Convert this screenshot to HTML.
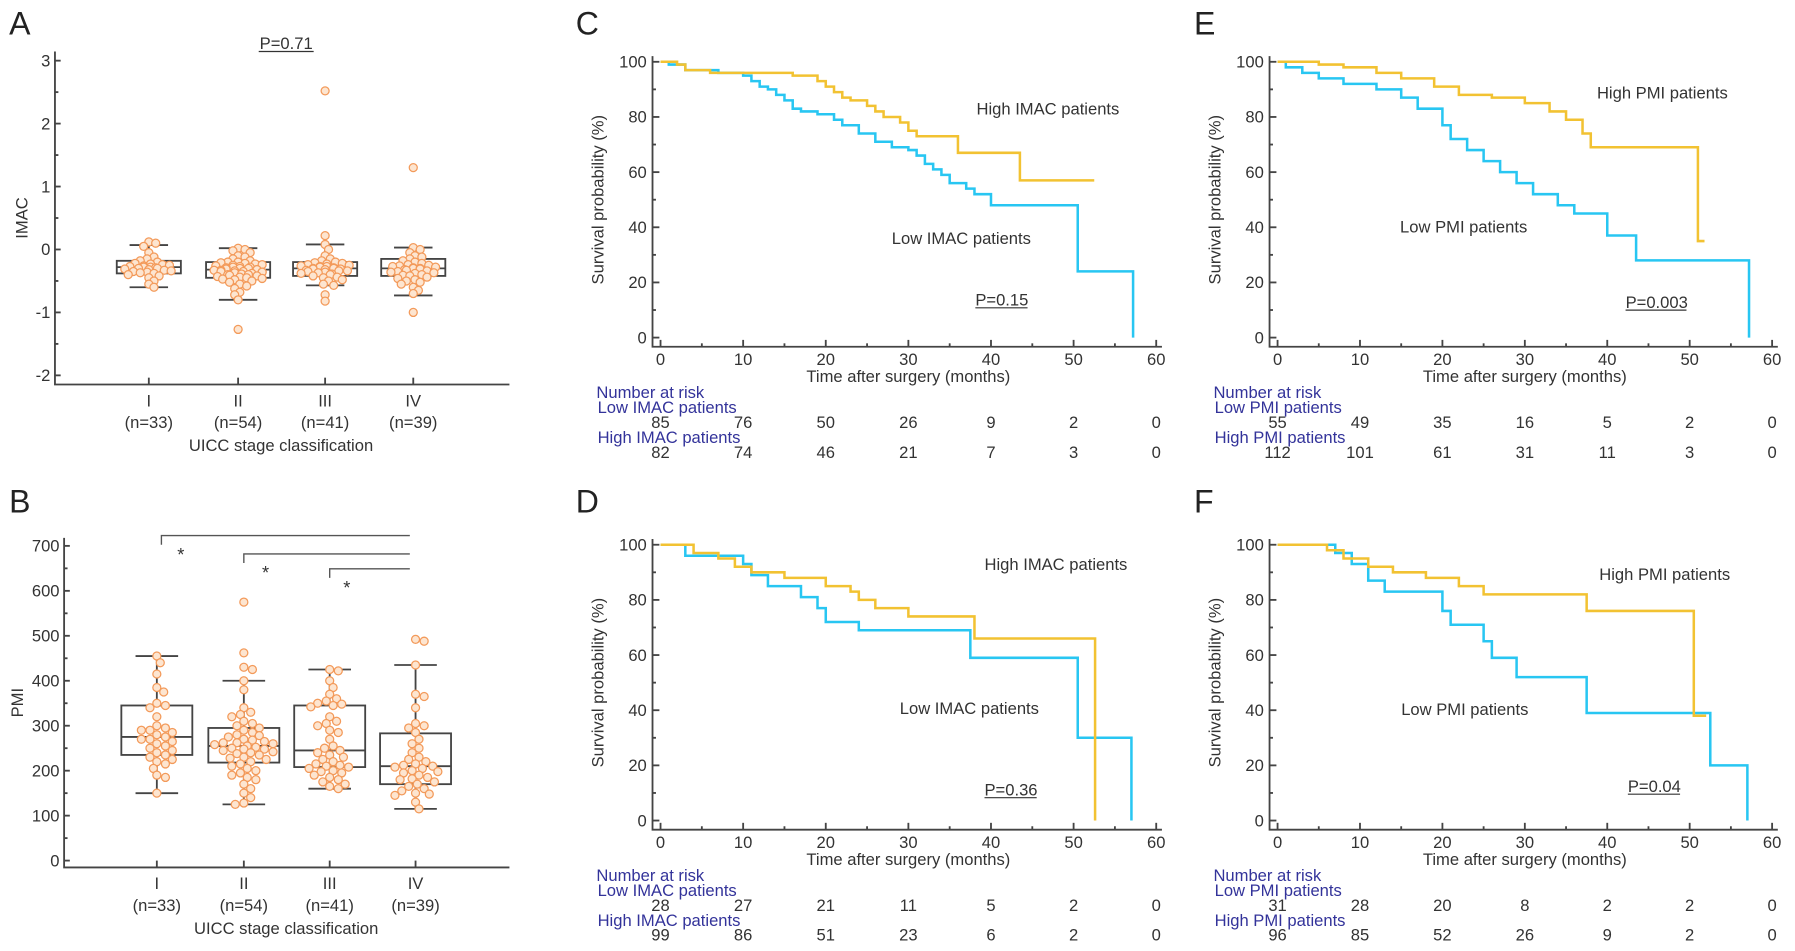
<!DOCTYPE html>
<html><head><meta charset="utf-8">
<style>
html,body{margin:0;padding:0;background:#fff;}
svg{display:block;}
text{font-family:"Liberation Sans",sans-serif;fill:#333;}
.lab{font-size:28px;fill:#222;}
.tk{font-size:14.5px;}
.ax{stroke:#444;stroke-width:1.6;fill:none;}
.risk{fill:#33339a;font-size:14.5px;}
</style></head>
<body>
<svg id="fig" width="1795" height="951" viewBox="0 0 1568 831" preserveAspectRatio="none" xmlns="http://www.w3.org/2000/svg">
<text class="lab" x="8" y="30">A</text>
<text class="lab" x="8" y="448">B</text>
<text class="lab" x="503" y="30">C</text>
<text class="lab" x="503" y="448">D</text>
<text class="lab" x="1043" y="30">E</text>
<text class="lab" x="1043" y="448">F</text>
<g id="g"></g>
</svg>
<script>
// ---- Box plot data ----
const stages = ["I","II","III","IV"];
const stageN = ["(n=33)","(n=54)","(n=41)","(n=39)"];
const imacBoxes = [[-0.6,-0.38,-0.28,-0.18,0.07],[-0.8,-0.45,-0.32,-0.2,0.02],[-0.57,-0.42,-0.3,-0.2,0.08],[-0.73,-0.42,-0.3,-0.15,0.03]];
const imacI = [0.12,0.1,0.05,-0.05,-0.12,-0.15,-0.18,-0.2,-0.22,-0.24,-0.25,-0.27,-0.28,-0.28,-0.3,-0.3,-0.32,-0.33,-0.34,-0.35,-0.36,-0.37,-0.38,-0.4,-0.42,-0.45,-0.5,-0.55,-0.6,-0.26,-0.31,-0.29,-0.23];
const imacII = [0.02,0.0,-0.02,-0.05,-0.1,-0.12,-0.15,-0.18,-0.2,-0.2,-0.22,-0.24,-0.25,-0.26,-0.28,-0.28,-0.3,-0.3,-0.31,-0.32,-0.32,-0.33,-0.34,-0.35,-0.35,-0.36,-0.37,-0.38,-0.4,-0.4,-0.42,-0.43,-0.45,-0.46,-0.48,-0.5,-0.52,-0.55,-0.58,-0.62,-0.68,-0.72,-0.8,-1.27,-0.27,-0.29,-0.33,-0.36,-0.39,-0.21,-0.23,-0.41,-0.44,-0.47];
const imacIII = [2.52,0.22,0.08,0.0,-0.1,-0.15,-0.18,-0.2,-0.22,-0.24,-0.25,-0.26,-0.27,-0.28,-0.29,-0.3,-0.3,-0.31,-0.32,-0.33,-0.34,-0.35,-0.36,-0.37,-0.38,-0.4,-0.42,-0.45,-0.5,-0.55,-0.57,-0.72,-0.82,-0.23,-0.27,-0.31,-0.34,-0.21,-0.39,-0.44,-0.48];
const imacIV = [1.3,0.03,0.0,-0.05,-0.1,-0.12,-0.15,-0.18,-0.2,-0.22,-0.24,-0.25,-0.27,-0.28,-0.3,-0.3,-0.32,-0.33,-0.35,-0.36,-0.38,-0.4,-0.42,-0.44,-0.46,-0.5,-0.55,-0.6,-0.65,-0.7,-1.0,-0.26,-0.29,-0.31,-0.34,-0.37,-0.41,-0.48,-0.52];
const pmiBoxes = [[150,235,275,345,455],[125,218,255,295,400],[160,208,245,345,425],[115,170,210,283,435]];
const pmiI = [455,440,415,385,375,350,345,340,320,300,295,290,285,280,275,270,265,260,255,250,245,240,235,230,225,220,215,205,190,185,270,290,150];
const pmiII = [575,462,430,425,400,380,340,330,325,320,310,305,300,295,290,285,280,278,275,270,268,265,262,260,258,255,252,250,248,245,242,240,235,230,228,225,220,215,210,205,200,195,190,185,180,170,160,150,140,128,125,262,248,238];
const pmiIII = [425,422,400,385,370,360,355,350,348,345,342,320,310,305,300,290,285,270,255,245,240,230,225,220,215,212,210,208,205,200,198,195,190,185,180,175,170,165,160,250,235];
const pmiIV = [492,488,435,370,365,340,305,300,295,285,270,260,250,240,230,220,215,212,210,208,205,200,195,190,185,180,175,170,165,160,155,150,148,145,130,115,225,198,182];
// ---- KM data ----
const cHighT=[0,2,3,6,16,19,20,21,22,23,25,26,27,29,30,31,36,43.5,52.5];
const cHighS=[100,99,97,96,95,93,91,89,87,86,84,82,80,78,75,73,67,57,57];
const cLowT=[0,1,3,7,10,11,12,13,14,15,16,17,19,21,22,24,26,28,30,31,32,33,34,35,37,38,40,50.5,57.2];
const cLowS=[100,99,97,96,95,93,91,90,88,86,83,82,81,79,77,74,71,69,68,66,63,61,59,56,54,52,48,24,0];
const dHighT=[0,4,7,9,11,15,20,23,24,26,30,38,52.6];
const dHighS=[100,97,95,92,90,88,85,83,80,77,74,66,0];
const dLowT=[0,3,10,11,13,17,19,20,24,37.5,50.5,57];
const dLowS=[100,96,93,89,85,81,77,72,69,59,30,0];
const eHighT=[0,5,8,12,15,19,22,26,30,33,35,37,38,51,51.8];
const eHighS=[100,99,98,96,94,91,88,87,85,82,79,74,69,35,35];
const eLowT=[0,1,3,5,8,12,15,17,20,21,23,25,27,29,31,34,36,40,43.5,57.2];
const eLowS=[100,98,96,94,92,90,87,83,77,72,68,64,60,56,52,48,45,37,28,0];
const fHighT=[0,6,8,11,14,18,22,25,37.5,50.5,52];
const fHighS=[100,98,95,92,90,88,85,82,76,38,38];
const fLowT=[0,7,9,11,13,20,21,25,26,29,37.5,52.5,57];
const fLowS=[100,97,93,87,83,76,71,65,59,52,39,20,0];
const riskTicks=[0,10,20,30,40,50,60];
const cLowRisk=[85,76,50,26,9,2,0], cHighRisk=[82,74,46,21,7,3,0];
const dLowRisk=[28,27,21,11,5,2,0], dHighRisk=[99,86,51,23,6,2,0];
const eLowRisk=[55,49,35,16,5,2,0], eHighRisk=[112,101,61,31,11,3,0];
const fLowRisk=[31,28,20,8,2,2,0], fHighRisk=[96,85,52,26,9,2,0];

const NS="http://www.w3.org/2000/svg";
const root=document.getElementById('g');
function mk(tag,attrs,parent,txt){const e=document.createElementNS(NS,tag);for(const k in attrs)e.setAttribute(k,attrs[k]);if(txt!==undefined)e.textContent=txt;(parent||root).appendChild(e);return e;}

function boxPanel(o){
  const g=mk('g',{});
  
  
  const y=v=>o.y0+(v-o.vmin)/(o.vmax-o.vmin)*(o.y1-o.y0);
  const ax=mk('path',{d:`M${o.ax},${o.top}V${o.axY}H${o.right}`,class:'ax'},g);
  
  
  for(let v=o.vmin;v<=o.vmax+1e-9;v+=o.minor){
    const major=Math.abs((v-o.vmin)/o.step-Math.round((v-o.vmin)/o.step))<1e-6;
    mk('line',{x1:o.ax,x2:o.ax+(major?5:3),y1:y(v),y2:y(v),class:'ax'},g);
    if(major){const t=mk('text',{x:o.ax-4,y:y(v)+5,'text-anchor':'end',class:'tk'},g,String(Math.round(v)));
      
      }
  }
  const yl=mk('text',{transform:`translate(${o.ylx},${(o.top+o.axY)/2}) rotate(-90)`,'text-anchor':'middle',class:'tk'},g,o.ylabel);
  
  
  o.xs.forEach((cx,i)=>{
    mk('line',{x1:cx,x2:cx,y1:o.axY,y2:o.axY-6,class:'ax'},g);
    const t1=mk('text',{x:cx,y:o.axY+19,'text-anchor':'middle',class:'tk'},g,stages[i]);
    
    
    const t2=mk('text',{x:cx,y:o.axY+38,'text-anchor':'middle',class:'tk'},g,stageN[i]);
    
    
    const b=o.boxes[i], w=o.bw;
    const bx=mk('g',{},g);
    
    
    mk('rect',{x:cx-w/2,y:y(b[3]),width:w,height:y(b[1])-y(b[3]),fill:'none',stroke:'#444','stroke-width':1.6},bx);
    mk('line',{x1:cx-w/2,x2:cx+w/2,y1:y(b[2]),y2:y(b[2]),stroke:'#444','stroke-width':1.6},bx);
    mk('line',{x1:cx,x2:cx,y1:y(b[4]),y2:y(b[3]),stroke:'#444','stroke-width':1.6},bx);
    mk('line',{x1:cx,x2:cx,y1:y(b[1]),y2:y(b[0]),stroke:'#444','stroke-width':1.6},bx);
    mk('line',{x1:cx-w*0.3,x2:cx+w*0.3,y1:y(b[4]),y2:y(b[4]),stroke:'#444','stroke-width':1.6},bx);
    mk('line',{x1:cx-w*0.3,x2:cx+w*0.3,y1:y(b[0]),y2:y(b[0]),stroke:'#444','stroke-width':1.6},bx);
    // beeswarm (limited width, overlap allowed)
    const vals=o.data[i].slice().sort((a,b)=>b-a), r=3.5, placed=[], maxOff=o.spread;
    vals.forEach(v=>{
      const py=y(v); let best=cx,bestC=1e9;
      for(let k=0;k<=40;k++){const off=(k%2?1:-1)*Math.ceil(k/2)*1.5; if(Math.abs(off)>maxOff)break;
        const px=cx+off;
        const c=placed.filter(p=>Math.hypot(p[0]-px,p[1]-py)<o.sep).length;
        if(c<bestC){bestC=c;best=px;} if(c===0)break;}
      placed.push([best,py]);
      const c=mk('circle',{cx:best,cy:py,r:r,fill:'#fde5d0',stroke:'#f39a5a','stroke-width':1.1},g);
      
      
    });
  });
  const xt=mk('text',{x:(o.xs[0]+o.xs[3])/2,y:o.axY+58,'text-anchor':'middle',class:'tk'},g,'UICC stage classification');
  
  
  return g;
}
boxPanel({name:'panel-a-imac-boxplot',ax:48,top:45,axY:336,right:445,vmin:-2,vmax:3,y0:328,y1:53,step:1,minor:0.5,xs:[130,208,284,361],bw:56,spread:22,sep:5,boxes:imacBoxes,data:[imacI,imacII,imacIII,imacIV],ylabel:'IMAC',ylx:24});
boxPanel({name:'panel-b-pmi-boxplot',ax:56,top:470,axY:758,right:445,vmin:0,vmax:700,y0:752,y1:477,step:100,minor:50,xs:[137,213,288,363],bw:62,spread:26,sep:6.5,boxes:pmiBoxes,data:[pmiI,pmiII,pmiIII,pmiIV],ylabel:'PMI',ylx:20});
const pt=mk('text',{x:250,y:43,'text-anchor':'middle',class:'tk'},root,'P=0.71');


mk('line',{x1:226,x2:274,y1:45,y2:45,stroke:'#333','stroke-width':1});
// significance brackets
[[141,468,476,158],[213,484,492,232],[288,497,505,303]].forEach((b,i)=>{
  const br=mk('path',{d:`M${b[0]},${b[2]}V${b[1]}H358`,fill:'none',stroke:'#555','stroke-width':1.2});
  
  
  const s=mk('text',{x:b[3],y:b[1]+22,'text-anchor':'middle','font-size':'16px'},root,'*');
  
  
});

function kmPanel(o){
  const g=mk('g',{});
  
  
  const X=t=>o.x0+t/60*(o.x1-o.x0), Y=s=>o.y0+s/100*(o.y1-o.y0);
  const axY=o.y0+8, axX=o.x0-7;
  const ax=mk('path',{d:`M${axX},${o.y1-5}V${axY}H${o.x1+5}`,class:'ax'},g);
  
  
  for(let v=0;v<=100;v+=10){mk('line',{x1:axX,x2:axX+(v%20?3:6),y1:Y(v),y2:Y(v),class:'ax'},g);
    if(v%20===0){const t=mk('text',{x:axX-5,y:Y(v)+5,'text-anchor':'end',class:'tk'},g,String(v));
      
      }}
  for(let t=0;t<=60;t+=5){mk('line',{x1:X(t),x2:X(t),y1:axY,y2:axY-(t%10?3:6),class:'ax'},g);
    if(t%10===0){const e=mk('text',{x:X(t),y:axY+16,'text-anchor':'middle',class:'tk'},g,String(t));
      
      }}
  const xt=mk('text',{x:(o.x0+o.x1)/2,y:axY+31,'text-anchor':'middle',class:'tk'},g,'Time after surgery (months)');
  
  
  const yt=mk('text',{transform:`translate(${o.x0-50},${(o.y0+o.y1)/2}) rotate(-90)`,'text-anchor':'middle',class:'tk','font-size':'14px'},g,'Survival probability (%)');
  
  
  function curve(T,S,col,nm){let d=`M${X(T[0])},${Y(S[0])}`;
    for(let i=1;i<T.length;i++){d+=`H${X(T[i])}V${Y(S[i])}`;}
    const p=mk('path',{d:d,fill:'none',stroke:col,'stroke-width':2.2},g);
    
    }
  curve(o.lowT,o.lowS,'#28c6f2','low-group-curve');
  curve(o.highT,o.highS,'#f2c232','high-group-curve');
  const h=mk('text',{x:o.hi[0],y:o.hi[1],class:'tk'},g,o.hiTxt);
  
  
  const l=mk('text',{x:o.lo[0],y:o.lo[1],class:'tk'},g,o.loTxt);
  
  
  const p=mk('text',{x:o.p[0],y:o.p[1],class:'tk'},g,o.pTxt);
  
  
  mk('line',{x1:o.p[0],x2:o.p[0]+o.pTxt.length*7.6,y1:o.p[1]+2,y2:o.p[1]+2,stroke:'#333','stroke-width':1},g);
  const ry=axY+45;
  const r1=mk('text',{x:o.x0-56,y:ry,class:'risk'},g,'Number at risk');
  
  
  const r2=mk('text',{x:o.x0-55,y:ry+13,class:'risk'},g,o.lowName);
  
  
  const r3=mk('text',{x:o.x0-55,y:ry+39,class:'risk'},g,o.highName);
  
  
  riskTicks.forEach((t,i)=>{
    const a=mk('text',{x:X(t),y:ry+26,'text-anchor':'middle',class:'tk'},g,String(o.lowRisk[i]));
    
    
    const b=mk('text',{x:X(t),y:ry+52,'text-anchor':'middle',class:'tk'},g,String(o.highRisk[i]));
    
    
  });
}
kmPanel({name:'panel-c-km-imac',x0:577,x1:1010,y0:295,y1:54,highT:cHighT,highS:cHighS,lowT:cLowT,lowS:cLowS,hi:[853,100],hiTxt:'High IMAC patients',lo:[779,213],loTxt:'Low IMAC patients',p:[852,267],pTxt:'P=0.15',lowName:'Low IMAC patients',highName:'High IMAC patients',lowRisk:cLowRisk,highRisk:cHighRisk});
kmPanel({name:'panel-d-km-imac',x0:577,x1:1010,y0:717,y1:476,highT:dHighT,highS:dHighS,lowT:dLowT,lowS:dLowS,hi:[860,498],hiTxt:'High IMAC patients',lo:[786,624],loTxt:'Low IMAC patients',p:[860,695],pTxt:'P=0.36',lowName:'Low IMAC patients',highName:'High IMAC patients',lowRisk:dLowRisk,highRisk:dHighRisk});
kmPanel({name:'panel-e-km-pmi',x0:1116,x1:1548,y0:295,y1:54,highT:eHighT,highS:eHighS,lowT:eLowT,lowS:eLowS,hi:[1395,86],hiTxt:'High PMI patients',lo:[1223,203],loTxt:'Low PMI patients',p:[1420,269],pTxt:'P=0.003',lowName:'Low PMI patients',highName:'High PMI patients',lowRisk:eLowRisk,highRisk:eHighRisk});
kmPanel({name:'panel-f-km-pmi',x0:1116,x1:1548,y0:717,y1:476,highT:fHighT,highS:fHighS,lowT:fLowT,lowS:fLowS,hi:[1397,507],hiTxt:'High PMI patients',lo:[1224,625],loTxt:'Low PMI patients',p:[1422,692],pTxt:'P=0.04',lowName:'Low PMI patients',highName:'High PMI patients',lowRisk:fLowRisk,highRisk:fHighRisk});
</script>
</body></html>
